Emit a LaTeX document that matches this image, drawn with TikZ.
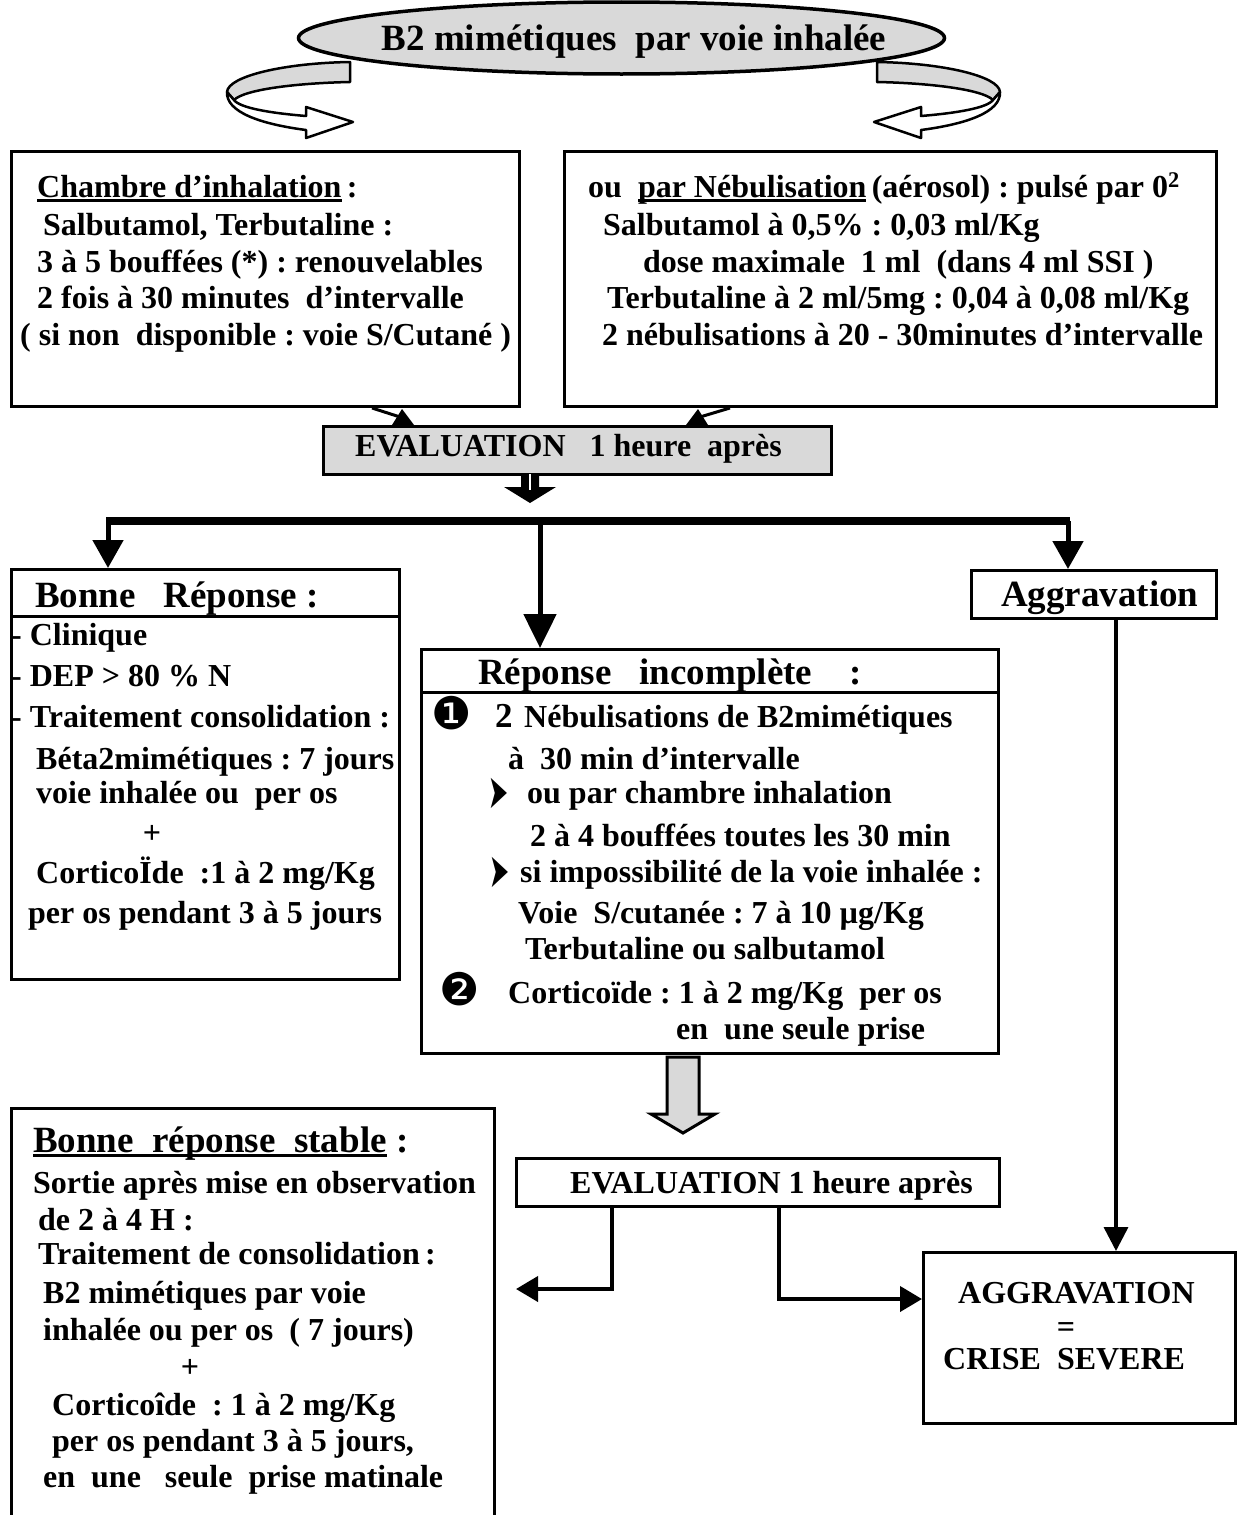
\documentclass[tikz,border=0pt]{standalone}
\usepackage{fontspec}
\usepackage{graphicx}
\setmainfont{Liberation Serif}
\newfontfamily\symf{DejaVu Sans}
\usetikzlibrary{arrows.meta,shapes.geometric,calc}
\definecolor{lgray}{RGB}{217,217,217}
\frenchspacing
\newcommand\ulx[1]{\setbox0\hbox{#1}\rlap{\rule[-5pt]{\wd0}{2.8pt}}\box0\relax}
\newcommand\fbody{\fontsize{32}{38}\selectfont\bfseries}
\newcommand\fbig{\fontsize{37}{44}\selectfont\bfseries}
\newcommand\fsym{\fontsize{45}{48}\selectfont\symf}
\newcommand\farr{\fontsize{48}{50}\selectfont\symf}
\begin{document}
\begin{tikzpicture}[x=1pt,y=-1pt,
  box/.style={draw, line width=3pt, rectangle, inner sep=0pt, anchor=north west},
  tx/.style={anchor=base west, inner sep=0pt, font=\fbody},
  bx/.style={anchor=base west, inner sep=0pt, font=\fbig},
  sy/.style={anchor=base west, inner sep=0pt, font=\fsym},
  ar/.style={anchor=base west, inner sep=0pt, font=\farr},
  conn/.style={line width=4pt},
  bus/.style={line width=8pt},
  curv/.style={line width=2.5pt, line join=round},
  ]
\useasboundingbox (0,0) rectangle (1238,1515);

% ---------- title ----------
\node[ellipse, draw, fill=lgray, line width=3.5pt, minimum width=646pt, minimum height=72pt, inner sep=0pt] (ttl) at (621.5,38) {};
\node[anchor=base, inner sep=0pt, font=\fbig] (ttltxt) at (634,50) {B2 mimétiques\ \ par voie inhalée};

% ---------- curved arrows ----------
\filldraw[curv, fill=lgray] (350,62) .. controls (285,63) and (228,76) .. (227,92) -- (234,100) .. controls (245,89) and (300,83) .. (350,82) -- cycle;
\filldraw[curv, fill=white] (227,92) .. controls (226,112) and (260,124) .. (306,130) -- (306,138) -- (353,122) -- (306,107) -- (306,116) .. controls (270,113) and (240,108) .. (234,100) -- cycle;
\begin{scope}[xshift=1227pt, xscale=-1]
\filldraw[curv, fill=lgray] (350,62) .. controls (285,63) and (228,76) .. (227,92) -- (234,100) .. controls (245,89) and (300,83) .. (350,82) -- cycle;
\filldraw[curv, fill=white] (227,92) .. controls (226,112) and (260,124) .. (306,130) -- (306,138) -- (353,122) -- (306,107) -- (306,116) .. controls (270,113) and (240,108) .. (234,100) -- cycle;
\end{scope}

% ---------- boxes ----------
\node[box, minimum width=508pt, minimum height=255pt] (tl) at (10,150) {};
\node[box, minimum width=652pt, minimum height=255pt] (tr) at (563,150) {};
\node[box, fill=lgray, minimum width=508pt, minimum height=48pt] (ev1) at (322,425) {};
\node[box, minimum width=388pt, minimum height=410pt] (br) at (10,568) {};
\node[box, minimum width=245pt, minimum height=48pt] (ag) at (970,569) {};
\node[box, minimum width=577pt, minimum height=404pt] (ri) at (420,648) {};
\node[box, minimum width=483pt, minimum height=48pt] (ev2) at (515,1157) {};
\node[box, minimum width=312pt, minimum height=171pt] (ac) at (922,1251) {};
\node[box, minimum width=483pt, minimum height=425pt] (bs) at (10,1107) {};

\coordinate (h1) at (0,616);
\coordinate (h2) at (0,692);
\draw[line width=3pt] (br.west |- h1) -- (br.east |- h1);
\draw[line width=3pt] (ri.west |- h2) -- (ri.east |- h2);

% ---------- texts: top left ----------
\node[tx] (a1) at (37,197) {\ulx{Chambre d’inhalation}\,:};
\node[tx] (a2) at (43,235) {Salbutamol, Terbutaline\ :};
\node[tx] (a3) at (37,272) {3 à 5 bouffées (*) : renouvelables};
\node[tx] (a4) at (37,308) {2 fois à 30 minutes\ \ d’intervalle};
\node[tx] (a5) at (20,345) {( si non\ \ disponible : voie S/Cutané )};

% ---------- texts: top right ----------
\node[tx] (b1) at (588,197) {ou\ \ \ulx{par Nébulisation}\,(aérosol) : pulsé par 0\textsuperscript{2}};
\node[tx] (b2) at (603,235) {Salbutamol à 0,5\% : 0,03 ml/Kg};
\node[tx] (b3) at (643,272) {dose maximale\ \ 1 ml\ \ (dans 4 ml SSI )};
\node[tx] (b4) at (607,308) {Terbutaline à 2 ml/5mg : 0,04 à 0,08 ml/Kg};
\node[tx] (b5) at (602,345) {2 nébulisations à 20 - 30minutes d’intervalle};

\node[tx] (e1) at (355,456) {EVALUATION\ \ \ 1 heure\ \ après};

% ---------- Bonne reponse ----------
\node[bx] (c0) at (35,607) {Bonne\ \ \ Réponse :};
\node[tx] (c1) at (11,645) {- Clinique};
\node[tx] (c2) at (11,686) {- DEP > 80 \% N};
\node[tx] (c3) at (11,727) {- Traitement consolidation :};
\node[tx] (c4) at (36,769) {Béta2mimétiques : 7 jours};
\node[tx] (c5) at (36,803) {voie inhalée ou\ \ per os};
\node[anchor=base, inner sep=0pt, font=\fbody] (c6) at (152,843) {+};
\node[tx] (c7) at (36,883) {CorticoÏde\ \ :1 à 2 mg/Kg};
\node[tx] (c8) at (28,923) {per os pendant 3 à 5 jours};

\node[bx] (d0) at (1001,606) {Aggravation};

% ---------- Reponse incomplete ----------
\node[bx] (f0) at (478,684) {Réponse\ \ \ incomplète\ \ \ \ :};
\node[sy] (f1a) at (431,729) {❶};
\node[anchor=base west, inner sep=0pt, font=\fontsize{35}{40}\selectfont\bfseries] (f1b) at (495,727) {2};
\node[tx] (f1) at (524,727) {Nébulisations\ de B2mimétiques};
\node[tx] (f2) at (508,769) {à\ \ 30 min d’intervalle};
\node[ar] (f3a) at (488,808) {\scalebox{0.5}[1]{➤}};
\node[tx] (f3) at (527,803) {ou par chambre inhalation};
\node[tx] (f4) at (530,846) {2 à 4 bouffées toutes les 30 min};
\node[ar] (f5a) at (489,887) {\scalebox{0.5}[1]{➤}};
\node[tx] (f5) at (520,882) {si impossibilité de la voie inhalée :};
\node[tx] (f6) at (518,923) {Voie\ \ S/cutanée : 7 à 10 µg/Kg};
\node[tx] (f7) at (525,959) {Terbutaline ou salbutamol};
\node[sy] (f8a) at (439,1005) {❷};
\node[tx] (f8) at (508,1003) {Corticoïde\ : 1 à 2 mg/Kg\ \ per os};
\node[tx] (f9) at (676,1039) {en\ \ une seule prise};

\node[tx] (g1) at (570,1193) {EVALUATION 1 heure après};

% ---------- AGGRAVATION ----------
\node[tx] (k1) at (958,1303) {AGGRAVATION};
\node[anchor=base, inner sep=0pt, font=\fbody] (k2) at (1066,1337) {=};
\node[tx] (k3) at (943,1369) {CRISE\ \ SEVERE};

% ---------- Bonne reponse stable ----------
\node[bx] (s0) at (33,1152) {\ulx{Bonne\ \ réponse\ \ stable} :};
\node[tx] (s1) at (33,1193) {Sortie après mise en observation};
\node[tx] (s2) at (38,1230) {de 2 à 4 H :};
\node[tx] (s3) at (38,1264) {Traitement de consolidation\,:};
\node[tx] (s4) at (43,1303) {B2 mimétiques par voie};
\node[tx] (s5) at (43,1340) {inhalée ou per os\ \ ( 7 jours)};
\node[anchor=base, inner sep=0pt, font=\fbody] (s6) at (190,1377) {+};
\node[tx] (s7) at (52,1415) {Corticoîde\ \ : 1 à 2 mg/Kg};
\node[tx] (s8) at (52,1451) {per os pendant 3 à 5 jours,};
\node[tx] (s9) at (43,1487) {en\ \ une\ \ \ seule\ \ prise matinale};

% ---------- connectors ----------
% boxes -> evaluation 1
\draw[line width=3pt] ($(tl.south west)+(362,0)$) -- ($(ev1.north west)+(78,-8)$);
\fill ($(ev1.north west)+(80,-16)$) -- ++(-10,16) -- ++(22,0) -- cycle;
\draw[line width=3pt] ($(tr.south west)+(167,0)$) -- ($(ev1.north west)+(378,-8)$);
\fill ($(ev1.north west)+(376,-16)$) -- ++(-12,16) -- ++(22,0) -- cycle;

% block arrow under evaluation 1
\fill (521,473) -- (539,473) -- (539,487) -- (556,487) -- (530,503) -- (504,487) -- (521,487) -- cycle;
\draw[white, line width=2.5pt] (530,474) -- (530,490);

% bus
\coordinate (busL) at (108,521);
\coordinate (busM) at (540,521);
\coordinate (busR) at (1068,521);
\draw[bus] ($(busL)+(-2,0)$) -- ($(busR)+(2,0)$);
\draw[line width=5pt, -{Triangle[length=28pt,width=30pt]}] (busL) -- (br.north -| busL);
\draw[line width=5pt, -{Triangle[length=34pt,width=32pt]}] (busM) -- (ri.north -| busM);
\draw[line width=5pt, -{Triangle[length=28pt,width=30pt]}] (busR) -- (ag.north -| busR);

% aggravation -> AGGRAVATION
\coordinate (aggx) at (1116,0);
\draw[line width=3.5pt, -{Triangle[length=24pt,width=24pt]}] (ag.south -| aggx) -- (ac.north -| aggx);

% hollow arrow incomplete -> evaluation 2
\filldraw[fill=lgray, line width=3pt, line join=miter] (667,1057) -- (699,1057) -- (699,1114) -- (715,1114) -- (683,1133) -- (651,1114) -- (667,1114) -- cycle;

% evaluation 2 -> left / AGGRAVATION
\coordinate (e2a) at (612,0);
\coordinate (lfree) at (516,1289);
\draw[conn, -{Triangle[length=22pt,width=25pt]}] (ev2.south -| e2a) |- (lfree);
\coordinate (e2b) at (779,0);
\coordinate (e2c) at (0,1299);
\draw[conn, -{Triangle[length=22pt,width=25pt]}] (ev2.south -| e2b) |- (ac.west |- e2c);
\end{tikzpicture}
\end{document}
